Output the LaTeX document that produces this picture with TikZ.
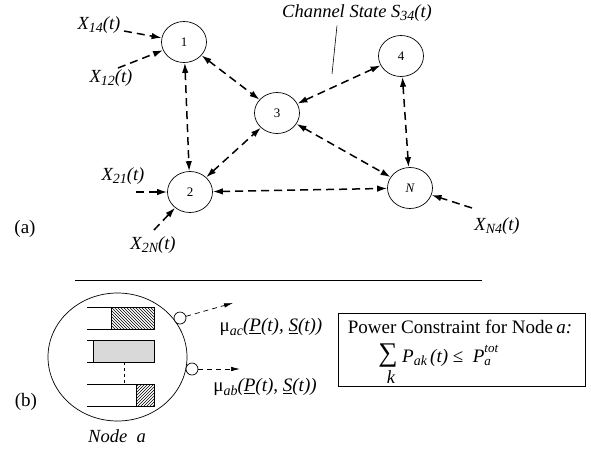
\documentclass[tikz,border=0pt]{standalone}
\usepackage{fontspec}
\setmainfont{Liberation Serif}
\usetikzlibrary{shapes.geometric,arrows.meta,patterns}

\newcommand\lowsub[1]{\raisebox{-0.4ex}{\fontsize{14}{16}\selectfont #1}}

\begin{document}
\begin{tikzpicture}[x=1pt, y=-1pt,
    station/.style={draw, ellipse, minimum width=45pt, minimum height=41pt, inner sep=0pt, line width=0.7pt, font=\fontsize{13}{15}\selectfont},
    link/.style={-{Latex[length=10pt,width=6.5pt]}, line width=1.5pt, dash pattern=on 8pt off 5pt},
    duplex/.style={link, {Latex[length=10pt,width=6.5pt]}-{Latex[length=10pt,width=6.5pt]}},
    service/.style={-{Latex[length=9pt,width=4.5pt]}, line width=0.7pt, dash pattern=on 5pt off 4pt},
    tag/.style={font=\fontsize{18.5}{21}\selectfont\itshape, inner sep=0pt},
    plain/.style={font=\fontsize{19}{22}\selectfont, inner sep=0pt},
    queue/.style={line width=0.7pt}]
    \useasboundingbox (0,0) rectangle (591,448);
    % (a) network
    \node[station] (Node 1) at (184,42) {1};
    \node[station] (Node 2) at (190,192) {2};
    \node[station] (Node 3) at (277,113) {3};
    \node[station] (Node 4) at (401,56) {4};
    \node[station] (Node N) at (410,188) {\itshape N};
    \node[tag] (X14) at (99,25) {X\lowsub{14}(t)};
    \node[tag] (X12) at (111,78) {X\lowsub{12}(t)};
    \node[tag] (X21) at (123,176) {X\lowsub{21}(t)};
    \node[tag] (X2N) at (153,245) {X\lowsub{2N}(t)};
    \node[tag] (XN4) at (497,226) {X\lowsub{N4}(t)};
    \node[tag] (Channel) at (357,13) {Channel State S\lowsub{34}(t)};
    \node[plain] (Part a) at (25,229) {(a)};
    \coordinate (X14 tail) at (124,31);
    \coordinate (X12 tail) at (118,68);
    \coordinate (X21 tail) at (136,192);
    \coordinate (X2N tail) at (154,230);
    \coordinate (XN4 tail) at (472,208);
    \coordinate (Channel foot) at (332,74);
    \draw[link] (X14 tail) -- (Node 1);
    \draw[link] (X12 tail) -- (Node 1);
    \draw[link] (X21 tail) -- (Node 2);
    \draw[link] (X2N tail) -- (Node 2);
    \draw[link] (XN4 tail) -- (Node N);
    \draw[duplex] (Node 1) -- (Node 2);
    \draw[duplex] (Node 1) -- (Node 3);
    \draw[duplex] (Node 2) -- (Node 3);
    \draw[duplex] (Node 3) -- (Node 4);
    \draw[duplex] (Node 3) -- (Node N);
    \draw[duplex] (Node 4) -- (Node N);
    \draw[duplex] (Node 2) -- (Node N);
    \draw[line width=0.6pt] ([xshift=-20pt, yshift=-4pt]Channel.south) -- (Channel foot);
    \draw[line width=0.6pt] (75,280) -- (482,280);
    % (b) node a
    \node[draw, ellipse, minimum width=139pt, minimum height=128pt, line width=0.7pt] (Node a) at (117.5,357) {};
    \foreach \y in {307,340,384}
        \draw[queue] (87,\y) -- (154,\y) -- (154,\y+22) -- (87,\y+22);
    \draw[queue, pattern=north west lines] (111,307) rectangle (154,329);
    \draw[queue, fill=gray!30] (93,340) rectangle (154,362);
    \draw[queue, pattern=north east lines] (136,384) rectangle (154,406);
    \draw[queue, dashed] (124,362) -- (124,384);
    \node[draw, circle, fill=white, minimum size=12pt, inner sep=0pt, line width=0.7pt] (Server c) at (180,318) {};
    \node[draw, circle, fill=white, minimum size=12pt, inner sep=0pt, line width=0.7pt] (Server b) at (192,369) {};
    \coordinate (Out c) at (233,303);
    \coordinate (Out b) at (240,369);
    \draw[service] (Server c) -- (Out c);
    \draw[service] (Server b) -- (Out b);
    \node[plain] (Rate c) at (271,327) {μ\lowsub{\itshape ac}\textit{(\underline{P}(t), \underline{S}(t))}};
    \node[plain] (Rate b) at (265,387) {μ\lowsub{\itshape ab}\textit{(\underline{P}(t), \underline{S}(t))}};
    \node[plain] (Part b) at (26,402) {(b)};
    \node[tag] (Label a) at (117,436) {Node\ \ a};
    % power constraint
    \node[draw, line width=0.7pt, minimum width=247pt, minimum height=73pt] (Constraint) at (461.5,349.5) {};
    \node[plain, anchor=base] (Constraint title) at (460,333) {Power Constraint for Node\,\textit{a:}};
    \node[inner sep=0pt, font=\fontsize{27}{29}\selectfont] (Sum) at (388,356) {∑};
    \node[tag] (Sum index) at (391,377) {k};
    \node[plain, anchor=base west] (Sum term) at (402,362) {\textit{P\lowsub{ak}\,(t)} ≤\ \ \textit{P}\rlap{\raisebox{1.1ex}{\fontsize{13}{15}\selectfont\itshape tot}}\raisebox{-0.4ex}{\fontsize{13}{15}\selectfont\itshape a}};
\end{tikzpicture}
\end{document}
